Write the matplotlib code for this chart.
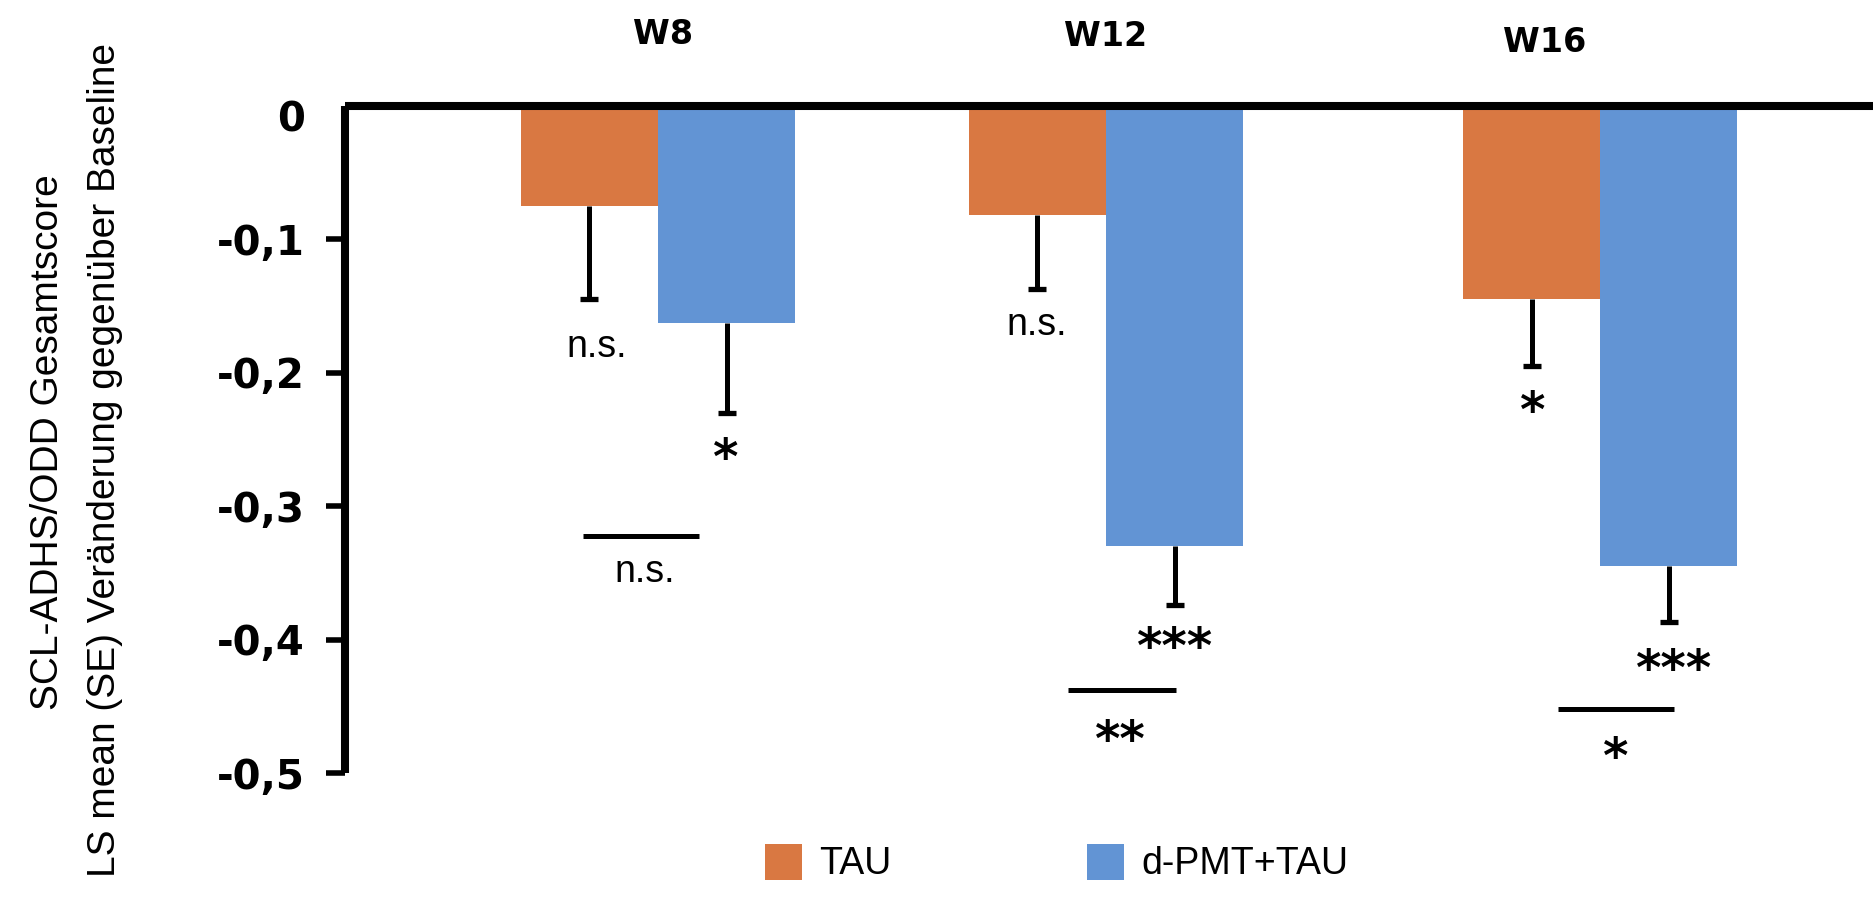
import matplotlib
matplotlib.use("Agg")
import matplotlib.pyplot as plt
import matplotlib.transforms as mtransforms
import numpy as np

# ---- data ----
weeks = ["W8", "W12", "W16"]
series_names = ["TAU", "d-PMT+TAU"]
tau_mean = [-0.075, -0.082, -0.145]
tau_se = [0.070, 0.055, 0.050]
dpmt_mean = [-0.163, -0.330, -0.345]
dpmt_se = [0.067, 0.044, 0.042]
tau_sig = ["n.s.", "n.s.", "*"]
dpmt_sig = ["*", "***", "***"]
between_sig = ["n.s.", "**", "*"]
yticks = [0, -0.1, -0.2, -0.3, -0.4, -0.5]
ytick_labels = ["0", "-0,1", "-0,2", "-0,3", "-0,4", "-0,5"]
ylabel_lines = ["SCL-ADHS/ODD Gesamtscore",
                "LS mean (SE) Veränderung gegenüber Baseline"]

# ---- layout ----
group_pos = np.array([0.0, 1.0, 2.103])
bar_w = 0.306
c_tau = "#D97842"
c_dpmt = "#6294D4"
reg = ["Liberation Sans", "DejaVu Sans"]
bold = ["DejaVu Sans"]

fig = plt.figure(figsize=(18.74, 9.16), dpi=100)
ax = fig.add_axes([345 / 1874, 0.15611, 1 - 345 / 1874, 0.72817])

ax.bar(group_pos - bar_w / 2, tau_mean, bar_w, color=c_tau, label=series_names[0], zorder=2)
ax.bar(group_pos + bar_w / 2, dpmt_mean, bar_w, color=c_dpmt, label=series_names[1], zorder=2)


def lower_err(xs, means, ses):
    xs = np.asarray(xs)
    means = np.asarray(means)
    ses = np.asarray(ses)
    ends = means - ses
    ax.vlines(xs, means, ends, colors="black", lw=3.6, zorder=3)
    ax.plot(xs, ends, ls="none", marker="_", ms=13, mew=3.8, color="black", zorder=3)


lower_err(group_pos - bar_w / 2, tau_mean, tau_se)
lower_err(group_pos + bar_w / 2, dpmt_mean, dpmt_se)

ax.set_xlim(-0.6987, 2.7143)
ax.set_ylim(-0.5, 0)

for s in ["bottom", "right"]:
    ax.spines[s].set_visible(False)
ax.spines["left"].set_linewidth(5.8)
ax.spines["top"].set_linewidth(5.8)
ax.spines["left"].set_capstyle("butt")
ax.spines["top"].set_capstyle("butt")
ax.set_xticks([])
ax.set_yticks(yticks)
ax.set_yticklabels(ytick_labels, fontfamily=bold, fontweight="bold", fontsize=29)
ax.tick_params(axis="y", length=14, width=4, pad=15, direction="out")
ax.yaxis.get_major_ticks()[0].tick1line.set_visible(False)
lab0 = ax.get_yticklabels()[0]
lab0.set_transform(lab0.get_transform() + mtransforms.ScaledTranslation(0, -7 / 72, fig.dpi_scale_trans))

# significance labels under error bars
ns_kw = dict(ha="center", va="baseline", fontsize=27, fontfamily=reg)
st_kw = dict(ha="center", va="baseline", fontsize=35, fontfamily=["DejaVu Sans"], fontweight="bold")


def sig_text(x, y, s):
    kw = ns_kw if s == "n.s." else st_kw
    ax.text(x, y, s, **kw)


tau_lab_x = [-0.136, 0.846, 1.953]
tau_lab_y = [-0.188, -0.1717, -0.241]
dpmt_lab_x = [0.150, 1.154, 2.268]
dpmt_lab_y = [-0.276, -0.4175, -0.434]
for i in range(3):
    sig_text(tau_lab_x[i], tau_lab_y[i], tau_sig[i])
    sig_text(dpmt_lab_x[i], dpmt_lab_y[i], dpmt_sig[i])

# between-group comparison lines
cmp_y = [-0.322, -0.4378, -0.452]
cmp_x0 = [-0.167, 0.915, 2.009]
cmp_x1 = [0.0915, 1.156, 2.268]
cmp_lab_x = [-0.029, 1.031, 2.138]
cmp_lab_y = [-0.357, -0.487, -0.500]
for i in range(3):
    ax.plot([cmp_x0[i], cmp_x1[i]], [cmp_y[i]] * 2, color="black", lw=3.6,
            solid_capstyle="butt", clip_on=False)
    sig_text(cmp_lab_x[i], cmp_lab_y[i], between_sig[i])

# week titles
title_x = [0.011, 1.0, 1.98]
title_y = [1.107, 1.104, 1.095]
for i, w in enumerate(weeks):
    ax.text(title_x[i], title_y[i], w, transform=ax.get_xaxis_transform(),
            ha="center", va="center", fontsize=24, fontweight="bold", fontfamily=bold)

# y label (two lines)
fig.text(48 / 1874, 1 - 442 / 916, ylabel_lines[0], rotation=90, ha="center", va="center",
         fontsize=28, fontfamily=reg)
fig.text(105 / 1874, 1 - 460 / 916, ylabel_lines[1], rotation=90, ha="center", va="center",
         fontsize=28, fontfamily=reg)

# legend
fig.legend(loc="center left", bbox_to_anchor=(765 / 1874, 1 - 863 / 916), ncol=2,
           frameon=False, prop={"family": reg, "size": 27}, handlelength=1.0,
           handleheight=1.1, handletextpad=0.45, columnspacing=5.2,
           borderpad=0, borderaxespad=0)

fig.savefig("out.png", dpi=100)
